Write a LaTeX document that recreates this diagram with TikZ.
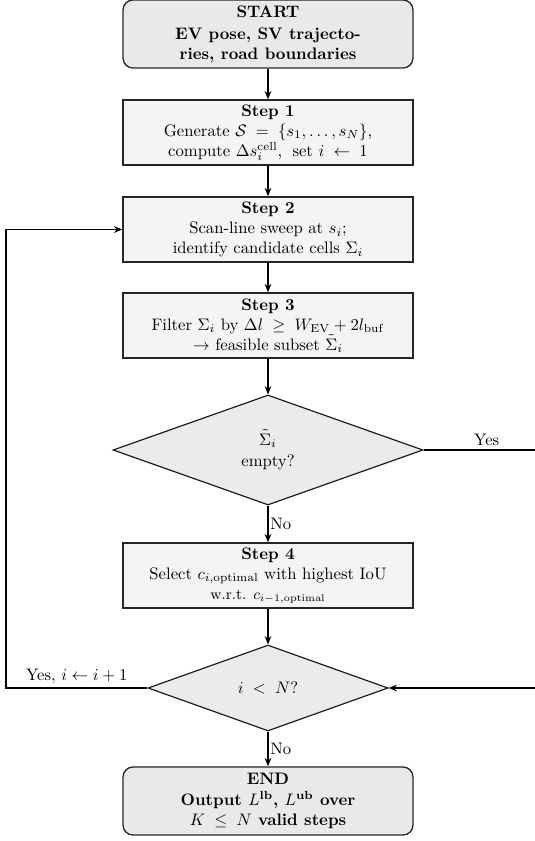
\documentclass[tikz,border=0pt]{standalone}
\usetikzlibrary{shapes.geometric,arrows.meta}
\definecolor{termfill}{HTML}{E9E9E9}
\definecolor{stepfill}{HTML}{F4F4F4}
\definecolor{decfill}{HTML}{EBEBEB}
\begin{document}
\begin{tikzpicture}[x=0.6pt,y=-0.6pt,
  termbox/.style={draw=black!85, line width=0.8pt, fill=termfill, rounded corners=6pt,
    minimum width=174pt, minimum height=40.8pt, align=center, inner sep=2pt},
  stepbox/.style={draw=black!85, line width=0.8pt, fill=stepfill,
    minimum width=174pt, minimum height=39pt, align=center, inner sep=2pt},
  decbox/.style={draw=black!90, line width=0.7pt, fill=decfill, diamond,
    align=center, inner sep=0pt},
  flow/.style={line width=0.7pt, -{Stealth[length=5pt,width=4pt]}},
  plain/.style={line width=0.7pt},
  lbl/.style={font=\normalsize, inner sep=1pt}]
\useasboundingbox (0,0) rectangle (534,841);

\node[termbox] (start) at (268,34) {\textbf{START}\\[1pt] \textbf{EV pose, SV trajecto-}\\ \textbf{ries, road boundaries}};
\node[stepbox] (s1) at (268,132.5) {\textbf{Step 1}\\ Generate $\mathcal{S} \;=\; \{s_1,\ldots,s_N\}$,\\ compute $\Delta s_i^{\mathrm{cell}}$, \;set $i \;\leftarrow\; 1$};
\node[stepbox] (s2) at (268,229.5) {\textbf{Step 2}\\ Scan-line sweep at $s_i$;\\ identify candidate cells $\Sigma_i$};
\node[stepbox] (s3) at (268,325.5) {\textbf{Step 3}\\ Filter $\Sigma_i$ by $\Delta l \;\geq\; W_{\mathrm{EV}} + 2l_{\mathrm{buf}}$\\ $\rightarrow$ feasible subset $\tilde{\Sigma}_i$};
\node[decbox, minimum width=186pt, minimum height=66pt] (d1) at (268,450) {$\tilde{\Sigma}_i$\\[1pt] empty?};
\node[stepbox] (s4) at (268,575.5) {\textbf{Step 4}\\ Select $c_{i,\mathrm{optimal}}$ with highest IoU\\ {\small w.r.t. $c_{i-1,\mathrm{optimal}}$}};
\node[decbox, minimum width=144pt, minimum height=51.6pt] (d2) at (268,688) {$i \;<\; N$?};
\node[termbox] (end) at (268,801) {\textbf{END}\\[1pt] \textbf{Output $L^{\mathbf{lb}}$, $L^{\mathbf{ub}}$ over}\\ \textbf{$K \;\leq\; N$ valid steps}};

\coordinate (r1) at (545,450);
\coordinate (r2) at (545,688);
\coordinate (l1) at (6,688);
\coordinate (l2) at (6,229.5);

\draw[flow] (start) -- (s1);
\draw[flow] (s1) -- (s2);
\draw[flow] (s2) -- (s3);
\draw[flow] (s3) -- (d1);
\draw[flow] (d1) -- node[lbl, anchor=west, pos=0.5] {No} (s4);
\draw[flow] (s4) -- (d2);
\draw[flow] (d2) -- node[lbl, anchor=west, pos=0.5] {No} (end);
\draw[plain] (d1.east) -- node[lbl, pos=0.52, anchor=south, yshift=1pt] {Yes} (r1);
\draw[flow] (r1) -- (r2) -- (d2.east);
\draw[flow] (d2.west) -- node[lbl, anchor=south, yshift=1pt] {Yes, $i \leftarrow i+1$} (l1) -- (l2) -- (s2.west);
\end{tikzpicture}
\end{document}
